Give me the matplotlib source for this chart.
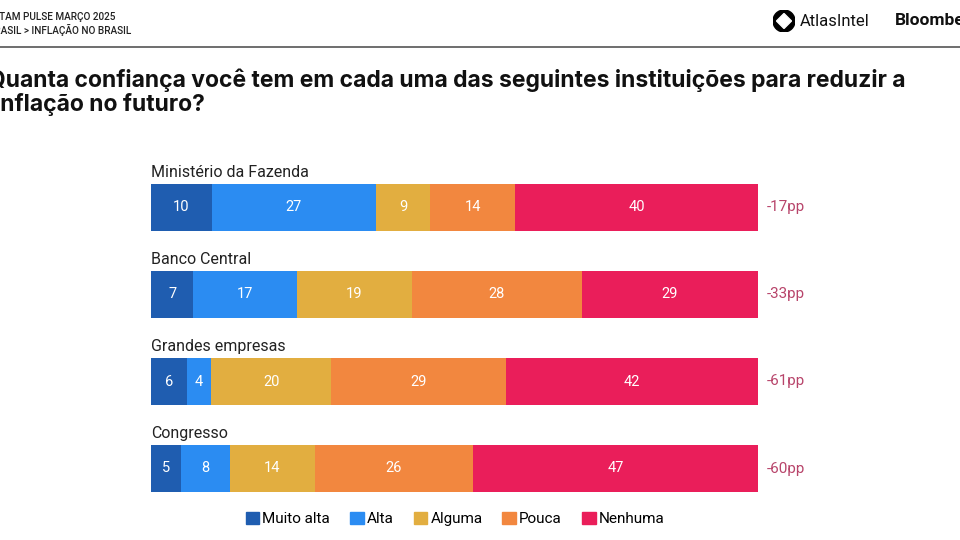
import numpy as np
import matplotlib
matplotlib.use("Agg")
import matplotlib.pyplot as plt
from matplotlib.patches import Patch, Circle, Polygon

# dados
institutions = ["Ministério da Fazenda", "Banco Central", "Grandes empresas", "Congresso"]
levels = ["Muito alta", "Alta", "Alguma", "Pouca", "Nenhuma"]
muito_alta = [10, 7, 6, 5]
alta = [27, 17, 4, 8]
alguma = [9, 19, 20, 14]
pouca = [14, 28, 29, 26]
nenhuma = [40, 29, 42, 47]
net_labels = ["-17pp", "-33pp", "-61pp", "-60pp"]

colors = ["#1f5db0", "#2b8cf2", "#e2ae40", "#f2873f", "#ea1e5a"]
pp_color = "#b8456b"

plt.rcParams['font.family'] = ['Roboto', 'DejaVu Sans']

fig = plt.figure(figsize=(9.6, 5.4), dpi=100)
W, H = 960, 540

# eixo das barras
ax = fig.add_axes([151 / W, 1 - 492 / H, (758 - 151) / W, (492 - 184) / H])
data = np.array([muito_alta, alta, alguma, pouca, nenhuma], dtype=float)
totals = data.sum(axis=0)
shares = data / totals * 100
y = np.arange(len(institutions))
left = np.zeros(len(institutions))
bh = 47 / 87
for k in range(len(levels)):
    ax.barh(y, shares[k], left=left, height=bh, color=colors[k], label=levels[k])
    for i in range(len(institutions)):
        ax.text(left[i] + shares[k][i] / 2, y[i], str(int(data[k][i])),
                ha='center', va='center', color='white', fontsize=10.5)
    left += shares[k]

for i, name in enumerate(institutions):
    ax.annotate(name, (0, y[i] - bh / 2), xytext=(0, 3), textcoords='offset points',
                ha='left', va='bottom', fontsize=11.5, color='#222222')
    ax.annotate(net_labels[i], (100, y[i]), xytext=(6, 0), textcoords='offset points',
                ha='left', va='center', fontsize=11, color=pp_color, annotation_clip=False)

ax.set_xlim(0, 100)
ax.set_ylim(3 + bh / 2, -bh / 2)
ax.axis('off')

# cabeçalho
fig.text(-13 / W, 1 - 17 / H, "LATAM PULSE MARÇO 2025", fontsize=7.2, va='center',
         fontweight='medium', color='#222222')
fig.text(-12 / W, 1 - 30 / H, "BRASIL > INFLAÇÃO NO BRASIL", fontsize=7.2, va='center',
         fontweight='medium', color='#222222')
fig.add_artist(plt.Line2D([0, 1], [1 - 47 / H, 1 - 47 / H], color='#555555', lw=1.2))

# logo
lax = fig.add_axes([773 / W, 1 - 32 / H, 22 / W, 22 / H])
lax.set_xlim(-1, 1)
lax.set_ylim(-1, 1)
lax.add_patch(Circle((0, 0), 1, color='black'))
lax.add_patch(Polygon([[0, 0.68], [0.68, 0], [0, -0.68], [-0.68, 0]], color='white'))
lax.axis('off')
fig.text(800 / W, 1 - 21 / H, "AtlasIntel", fontsize=12, va='center', color='#111111')
fig.text(895 / W, 1 - 21 / H, "Bloomberg", fontsize=12.5, va='center', fontweight='bold', color='#111111')

# título
fig.text(-12 / W, 1 - 80 / H, "Quanta confiança você tem em cada uma das seguintes instituições para reduzir a",
         fontsize=16.5, fontweight='bold', va='center', family=['Inter', 'DejaVu Sans'], color='#111111')
fig.text(-6 / W, 1 - 104 / H, "inflação no futuro?",
         fontsize=16.5, fontweight='bold', va='center', family=['Inter', 'DejaVu Sans'], color='#111111')

# legenda
handles = [Patch(color=c, label=l) for c, l in zip(colors, levels)]
fig.legend(handles=handles, loc='center', bbox_to_anchor=(455 / W, 1 - 519 / H), ncol=5,
           frameon=False, fontsize=11, handlelength=0.9, handleheight=0.9,
           handletextpad=0.2, columnspacing=1.3)

fig.savefig("out.png", dpi=100)
